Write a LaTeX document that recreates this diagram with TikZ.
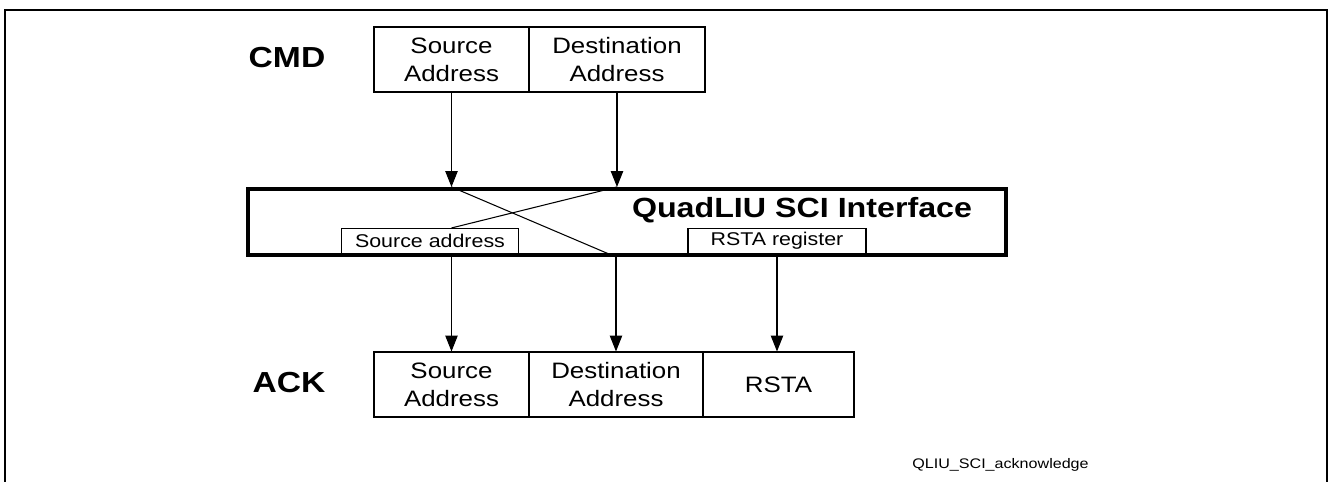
\documentclass[tikz,border=0pt]{standalone}
\usepackage{fontspec}
\setmainfont{Liberation Sans}[FakeStretch=1.16]
\usetikzlibrary{arrows.meta}
\begin{document}
\begin{tikzpicture}[x=0.02cm, y=-0.02cm,
    field/.style = {draw, line width=0.6pt, align=center, minimum height=1.3cm, inner sep=0pt, font=\fontsize{12.7}{15.9}\selectfont},
    reg/.style = {draw, fill=white, line width=0.6pt, minimum height=0.5cm, inner sep=0pt, font=\fontsize{10.5}{12}\selectfont},
    tag/.style = {anchor=base, font=\fontsize{16.5}{19}\selectfont\bfseries},
    arr/.style = {line width=0.6pt, -{Triangle[length=9pt, width=7pt]}}]

    \useasboundingbox (0,0) rectangle (1330,482);
    \draw[line width=1pt] (5,482) -- (5,10) -- (1327,10) -- (1327,482);

    \node[tag] (cmd) at (287,68) {CMD};
    \node[field, minimum width=3.1cm] (csrc) at (451.5,59.5) {Source\\Address};
    \node[field, minimum width=3.52cm] (cdst) at (617,59.5) {Destination\\Address};

    \node[draw, line width=2.3pt, minimum width=15.16cm, minimum height=1.32cm] (sci) at (627,222) {};
    \node[anchor=base, font=\fontsize{15.8}{18}\selectfont\bfseries] (title) at (802,218) {QuadLIU SCI Interface};

    \node[tag] (ack) at (289,393) {ACK};
    \node[field, minimum width=3.1cm] (asrc) at (451.5,384.5) {Source\\Address};
    \node[field, minimum width=3.48cm] (adst) at (616,384.5) {Destination\\Address};
    \node[field, minimum width=3.02cm] (arsta) at (778.5,384.5) {RSTA};

    \draw[line width=0.6pt] (csrc |- sci.north) -- (adst |- sci.south);

    \node[reg, minimum width=3.54cm] (sreg) at (430,241) {Source address};
    \node[reg, minimum width=3.56cm] (rreg) at (777,241) {RSTA register};

    \draw[line width=0.6pt] (cdst |- sci.north) -- (asrc |- sreg.north);

    \draw[arr] (csrc) -- (csrc |- sci.north);
    \draw[arr] (cdst) -- (cdst |- sci.north);

    \draw[arr] (asrc |- sci.south) -- (asrc);
    \draw[arr] (adst |- sci.south) -- (adst);
    \draw[arr] (rreg) -- (rreg |- arsta.north);

    \node[anchor=base west, inner sep=0pt, font=\fontsize{7.9}{9}\selectfont] (fig) at (912,469) {QLIU\_SCI\_acknowledge};

\end{tikzpicture}
\end{document}
